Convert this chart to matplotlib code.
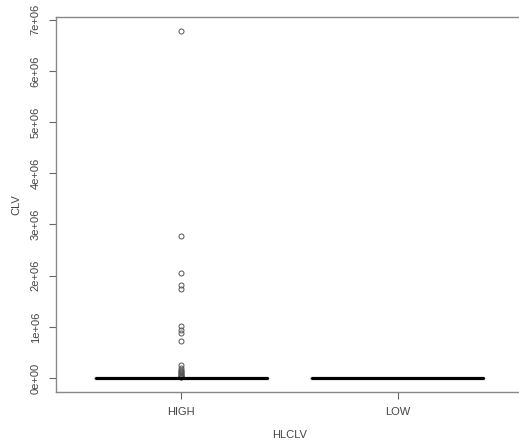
import matplotlib
matplotlib.use("Agg")
import matplotlib.pyplot as plt

plt.rcParams['font.family'] = ['Liberation Sans', 'DejaVu Sans']

groups = ['HIGH', 'LOW']
q1 = [0.0, 0.0]
med = [0.0, 0.0]
q3 = [0.0, 0.0]
whislo = [0.0, 0.0]
whishi = [0.0, 0.0]
high_outliers = [6.78e6, 2.78e6, 2.06e6, 1.82e6, 1.73e6, 1.02e6, 0.94e6,
                 0.89e6, 0.73e6, 0.25e6, 0.20e6, 0.16e6, 0.14e6, 0.12e6,
                 0.10e6, 0.08e6, 0.06e6, 0.05e6, 0.04e6, 0.03e6, 0.02e6]
low_outliers = []
yticks = [0, 1e6, 2e6, 3e6, 4e6, 5e6, 6e6, 7e6]
ytick_labels = ['0e+00', '1e+06', '2e+06', '3e+06', '4e+06', '5e+06', '6e+06', '7e+06']

stats = []
fliers = [high_outliers, low_outliers]
for i, g in enumerate(groups):
    stats.append(dict(label=g, q1=q1[i], med=med[i], q3=q3[i],
                      whislo=whislo[i], whishi=whishi[i], fliers=fliers[i]))

fig = plt.figure(figsize=(5.19, 4.43), dpi=100)
ax = fig.add_axes([56 / 519, 1 - 392 / 443, (523 - 56) / 519, (392 - 17) / 443])

txt = '#444444'
ax.bxp(stats, positions=[1, 2], widths=0.8,
       boxprops=dict(color='black', linewidth=1),
       medianprops=dict(color='black', linewidth=2.3),
       whiskerprops=dict(color='black', linewidth=1, linestyle='--'),
       capprops=dict(color='black', linewidth=1),
       flierprops=dict(marker='o', markerfacecolor='none', markeredgecolor='#555555',
                       markersize=3.6, markeredgewidth=0.7))

ax.set_xlim(0.42, 2.58)
ax.set_ylim(-0.272e6, 7.052e6)
ax.set_yticks(yticks)
ax.set_yticklabels(ytick_labels, rotation=90, va='center', fontsize=8, color=txt)
ax.set_xticks([1, 2])
ax.set_xticklabels(groups, fontsize=8, color=txt)
ax.tick_params(axis='both', color='#666666', length=5, width=0.8, pad=6)
for s in ax.spines.values():
    s.set_color('#888888')
    s.set_linewidth(1)
ax.set_xlabel('HLCLV', fontsize=8, color=txt, labelpad=9)
ax.set_ylabel('CLV', fontsize=8, color=txt, labelpad=7)

fig.savefig('out.png', dpi=100)
